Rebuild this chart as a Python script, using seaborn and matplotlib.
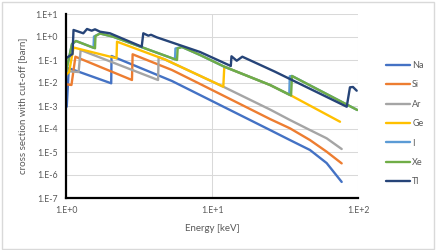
import numpy as np
import pandas as pd
import matplotlib
matplotlib.use("Agg")
import matplotlib.pyplot as plt
from matplotlib.lines import Line2D
from matplotlib.patches import Rectangle
from matplotlib.ticker import FixedLocator, NullLocator
import seaborn as sns

# ---------------- data ----------------
elements = ["Na", "Si", "Ar", "Ge", "I", "Xe", "Tl"]
colors = ["#4472C4", "#ED7D31", "#A5A5A5", "#FFC000", "#5B9BD5", "#70AD47", "#264478"]

na_E = [1.012, 1.045, 2.04, 2.05, 5.32, 8.28, 25.0, 34.2, 46.9, 61.0, 77.3]
na_sigma = [9.3e-4, 0.044, 0.0097, 0.149, 0.0122, 0.0030, 9.0e-5, 3.3e-5, 1.22e-5, 3.3e-6, 5.0e-7]

si_E = [1.00, 1.09, 1.16, 2.83, 2.86, 5.32, 8.28, 25.0, 34.2, 46.9, 61.0, 77.3]
si_sigma = [0.0088, 0.0082, 0.139, 0.0135, 0.177, 0.0367, 0.0091, 2.7e-4, 1.07e-4, 3.3e-5, 1.03e-5, 3.2e-6]

ar_E = [1.00, 1.22, 1.26, 4.27, 4.31, 4.77, 11.95, 25.0, 34.2, 46.9, 61.0, 77.3]
ar_sigma = [0.033, 0.030, 0.272, 0.0135, 0.132, 0.105, 0.0069, 7.0e-4, 2.46e-4, 9.0e-5, 3.94e-5, 1.35e-5]

ge_E = [1.00, 1.05, 1.126, 2.218, 2.236, 4.77, 11.95, 12.14, 24.97, 34.8, 75.3]
ge_sigma = [0.0223, 0.0301, 0.349, 0.119, 0.625, 0.105, 0.0069, 0.0512, 0.0082, 0.00286, 2.07e-4]

i_E = [1.00, 1.099, 1.171, 1.543, 1.555, 1.71, 2.099, 5.58, 5.62, 6.23, 8.28, 12.14, 24.97, 33.84, 34.1, 35.3, 98.9]
i_sigma = [0.031, 0.496, 0.67, 0.339, 1.05, 1.42, 1.03, 0.107, 0.316, 0.367, 0.165, 0.0512, 0.0082, 0.00312, 0.0196, 0.0202, 6.7e-4]

xe_E = [1.00, 1.099, 1.171, 1.58, 1.592, 1.71, 2.099, 5.76, 5.82, 6.23, 8.28, 12.14, 24.97, 34.8, 35.3, 98.9]
xe_sigma = [0.031, 0.496, 0.67, 0.323, 1.105, 1.42, 1.03, 0.1, 0.323, 0.367, 0.165, 0.0512, 0.0082, 0.00286, 0.0202, 6.7e-4]

tl_E = [1.00, 1.108, 1.126, 1.314, 1.393, 1.499, 1.58, 1.71, 2.0, 3.30, 3.384, 3.663, 3.82, 4.18,
        8.28, 13.45, 13.6, 14.77, 16.13, 27.0, 83.7, 88.1, 92.4, 97.97]
tl_sigma = [0.119, 0.182, 2.02, 1.45, 2.23, 1.88, 2.16, 1.70, 1.45, 0.379, 1.45, 1.14, 1.25, 0.97,
            0.223, 0.0549, 0.145, 0.093, 0.139, 0.031, 9.3e-4, 0.0065, 0.0067, 0.00463]

x_ticks = [1, 10, 100]
x_tick_labels = ["1.E+0", "1.E+1", "1.E+2"]
y_ticks = [1e-7, 1e-6, 1e-5, 1e-4, 1e-3, 1e-2, 1e-1, 1e0, 1e1]
y_tick_labels = ["1.E-7", "1.E-6", "1.E-5", "1.E-4", "1.E-3", "1.E-2", "1.E-1", "1.E+0", "1.E+1"]

series_E = [na_E, si_E, ar_E, ge_E, i_E, xe_E, tl_E]
series_sigma = [na_sigma, si_sigma, ar_sigma, ge_sigma, i_sigma, xe_sigma, tl_sigma]

rows = []
for el, es, ss in zip(elements, series_E, series_sigma):
    for k, (e, s) in enumerate(zip(es, ss)):
        rows.append({"element": el, "E": e, "sigma": s, "order": k})
df = pd.DataFrame(rows)

# ---------------- plotting ----------------
sns.set_style("white")
plt.rcParams["font.family"] = ["Lato", "DejaVu Sans"]
text_color = "#595959"

W, H = 436, 250
fig = plt.figure(figsize=(W / 100, H / 100), dpi=100)
left, right, top, bottom = 66, 358, 14, 198
ax = fig.add_axes([left / W, 1 - bottom / H, (right - left) / W, (bottom - top) / H])

palette = dict(zip(elements, colors))
sns.lineplot(data=df, x="E", y="sigma", hue="element", hue_order=elements,
             palette=palette, estimator=None, sort=False, units="element",
             linewidth=1.7, legend=False, ax=ax)

ax.set_xscale("log")
ax.set_yscale("log")
ax.set_xlim(1, 100)
ax.set_ylim(1e-7, 10)

ax.xaxis.set_major_locator(FixedLocator(x_ticks))
ax.yaxis.set_major_locator(FixedLocator(y_ticks))
ax.xaxis.set_minor_locator(NullLocator())
ax.yaxis.set_minor_locator(NullLocator())
ax.set_xticklabels(x_tick_labels)
ax.set_yticklabels(y_tick_labels)
ax.tick_params(axis="both", length=0, labelsize=6.3, colors=text_color)
ax.tick_params(axis="y", pad=6)
ax.tick_params(axis="x", pad=6)

ax.grid(True, which="major", color="#D9D9D9", linewidth=0.75)
ax.set_axisbelow(True)
for s in ["top", "right"]:
    ax.spines[s].set_visible(False)
for s in ["left", "bottom"]:
    ax.spines[s].set_color("black")
    ax.spines[s].set_linewidth(1.6)
    ax.spines[s].set_zorder(5)

ax.set_xlabel("Energy [keV]", fontsize=7, color=text_color, labelpad=6)
ax.set_ylabel("cross section with cut-off [barn]", fontsize=7, color=text_color, labelpad=6)

handles = [Line2D([0], [0], color=c, lw=1.7) for c in colors]
leg = fig.legend(handles, elements, loc="upper left",
                 bbox_to_anchor=(386 / W, 1 - 61 / H), frameon=False,
                 fontsize=6.5, handlelength=2.7, handletextpad=0.2,
                 labelspacing=1.15, borderpad=0, borderaxespad=0)
for t in leg.get_texts():
    t.set_color(text_color)

fig.patches.append(Rectangle((1.5 / W, 1.5 / H), (W - 4) / W, (H - 3.5) / H,
                             transform=fig.transFigure, fill=False,
                             edgecolor="#D9D9D9", linewidth=1))

fig.savefig("out.png", dpi=100)
